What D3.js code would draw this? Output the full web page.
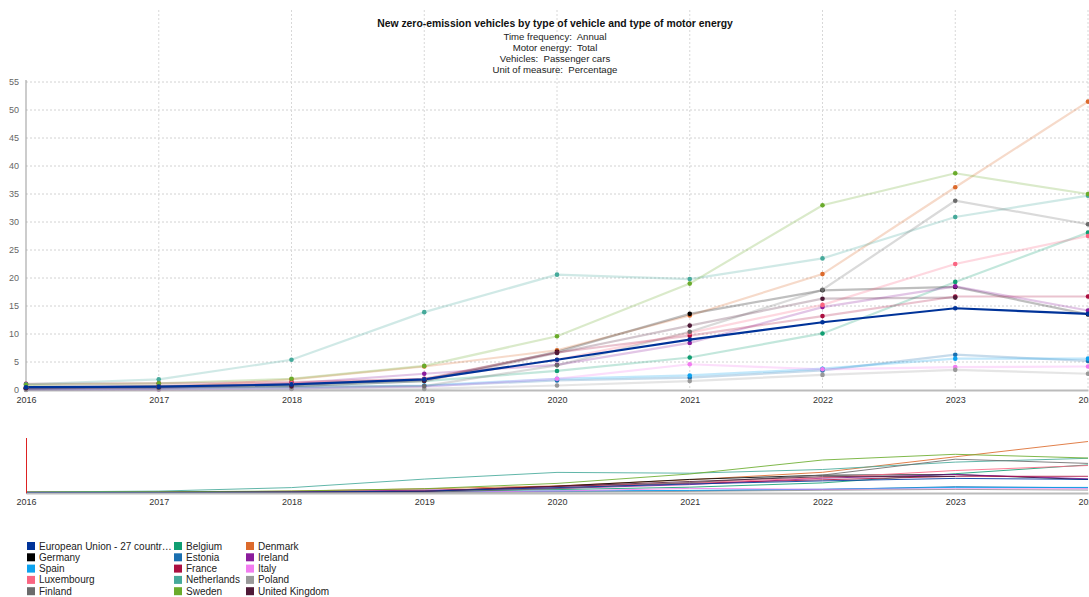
<!DOCTYPE html>
<html>
<head>
<meta charset="utf-8">
<script src="https://cdn.jsdelivr.net/npm/d3@7"></script>
<style>
  html, body { margin: 0; padding: 0; background: #fff; }
  svg { display: block; font-family: "Liberation Sans", Arial, sans-serif; }
  .pre { white-space: pre; }
</style>
</head>
<body>
<svg id="chart" width="1089" height="597"></svg>
<script>
const years = [2016, 2017, 2018, 2019, 2020, 2021, 2022, 2023, 2024];
const yTicks = [0, 5, 10, 15, 20, 25, 30, 35, 40, 45, 50, 55];

const countries = ["European Union - 27 countries (from 2020)", "Belgium", "Denmark", "Germany", "Estonia", "Ireland", "Spain", "France", "Italy", "Luxembourg", "Netherlands", "Poland", "Finland", "Sweden", "United Kingdom"];
const colors = ["#003399", "#109e72", "#dc6a2c", "#000000", "#1a6fb0", "#8a1c9c", "#0ca2ef", "#ab0f40", "#f27cf0", "#fa6582", "#45a99a", "#999999", "#6b6b6b", "#6aab2b", "#4f1a37"];

const euValues   = [0.5, 0.6, 1.0, 1.9, 5.4, 9.0, 12.1, 14.6, 13.6];
const beValues   = [0.4, 0.6, 0.7, 1.6, 3.4, 5.8, 10.1, 19.3, 28.1];
const dkValues   = [0.6, 0.4, 1.9, 4.2, 7.1, 13.3, 20.7, 36.2, 51.5];
const deValues   = [0.3, 0.7, 1.0, 1.8, 6.8, 13.6, 17.8, 18.4, 13.5];
const eeValues   = [0.1, 0.2, 0.3, 0.7, 1.7, 2.2, 3.5, 6.3, 5.2];
const ieValues   = [0.2, 0.3, 1.2, 2.9, 4.5, 8.4, 14.8, 18.5, 14.2];
const esValues   = [0.2, 0.3, 0.5, 0.8, 2.0, 2.6, 3.8, 5.6, 5.6];
const frValues   = [1.1, 1.2, 1.4, 2.0, 6.7, 9.7, 13.2, 16.7, 16.7];
const itValues   = [0.1, 0.1, 0.3, 0.6, 2.0, 4.6, 3.7, 4.1, 4.2];
const luValues   = [0.5, 0.7, 1.2, 1.9, 5.4, 10.2, 15.2, 22.5, 27.5];
const nlValues   = [1.0, 1.9, 5.4, 13.9, 20.6, 19.8, 23.5, 30.9, 34.7];
const plValues   = [0.0, 0.1, 0.2, 0.2, 0.8, 1.6, 2.7, 3.6, 2.9];
const fiValues   = [0.3, 0.4, 0.6, 0.7, 4.4, 10.4, 17.9, 33.8, 29.6];
const seValues   = [0.9, 1.2, 2.0, 4.3, 9.6, 19.0, 33.0, 38.7, 35.0];
const ukValues   = [0.3, 0.5, 0.7, 1.6, 6.6, 11.5, 16.3, 16.5, null];

const seriesValues = [euValues, beValues, dkValues, deValues, eeValues, ieValues, esValues, frValues, itValues, luValues, nlValues, plValues, fiValues, seValues, ukValues];

const titleText = "New zero-emission vehicles by type of vehicle and type of motor energy";
const subtitles = ["Time frequency:  Annual", "Motor energy:  Total", "Vehicles:  Passenger cars", "Unit of measure:  Percentage"];

const series = countries.map((name, i) => ({
  name, color: colors[i],
  values: years.map((y, j) => ({ year: y, value: seriesValues[i][j] })).filter(d => d.value !== null)
}));

const svg = d3.select("#chart");
const W = 1089;

// main scales
const x = d3.scaleLinear().domain([2016, 2024]).range([26, 1088]);
const y = d3.scaleLinear().domain([0, 55]).range([390, 82]);

// grid
const grid = svg.append("g");
grid.selectAll("line.h").data(yTicks.filter(t => t > 0)).join("line")
  .attr("x1", 26).attr("x2", W).attr("y1", d => y(d)).attr("y2", d => y(d))
  .attr("stroke", "#d2d2d2").attr("stroke-dasharray", "2,2").attr("stroke-width", 1);
grid.selectAll("line.v").data(years.slice(1)).join("line")
  .attr("x1", d => x(d)).attr("x2", d => x(d)).attr("y1", 10).attr("y2", 390)
  .attr("stroke", "#d8d8d8").attr("stroke-dasharray", "2,2").attr("stroke-width", 1);

// axes
const yAxis = d3.axisLeft(y).tickValues(yTicks).tickSize(0).tickPadding(7);
const gy = svg.append("g").attr("transform", "translate(26,0)").call(yAxis);
gy.select(".domain").remove();
gy.selectAll("text").attr("fill", "#666").attr("font-size", 9).attr("font-family", "Liberation Sans, Arial, sans-serif");
svg.append("line").attr("x1", 26).attr("x2", 26).attr("y1", 80).attr("y2", 391).attr("stroke", "#999").attr("stroke-width", 1);

const xAxis = d3.axisBottom(x).tickValues(years).tickFormat(d3.format("d")).tickSize(0).tickPadding(7);
const gx = svg.append("g").attr("transform", "translate(0,390)").call(xAxis);
gx.select(".domain").attr("stroke", "#bbb").attr("stroke-width", 2);
gx.selectAll("text").attr("fill", "#333").attr("font-size", 9).attr("font-family", "Liberation Sans, Arial, sans-serif");

// lines
const line = d3.line().x(d => x(d.year)).y(d => y(d.value));
const plot = svg.append("g");
const order = series.slice(1).concat([series[0]]);
plot.selectAll("path.s").data(order).join("path")
  .attr("d", d => line(d.values))
  .attr("fill", "none")
  .attr("stroke", d => d.color)
  .attr("stroke-width", 2.2)
  .attr("stroke-opacity", d => d === series[0] ? 1 : 0.25);
order.forEach(s => {
  plot.selectAll(null).data(s.values).join("circle")
    .attr("cx", d => x(d.year)).attr("cy", d => y(d.value))
    .attr("r", 2.3).attr("fill", s.color);
});

// title
const tg = svg.append("g").attr("text-anchor", "middle").attr("fill", "#111");
tg.append("text").attr("x", 555).attr("y", 27).attr("font-size", 10.4).attr("font-weight", "bold").text(titleText);
subtitles.forEach((t, i) => {
  tg.append("text").attr("class", "pre").attr("x", 555).attr("y", 39.5 + i * 11).attr("font-size", 9.6).attr("fill", "#222").text(t);
});

// navigator
const yn = d3.scaleLinear().domain([0, 55]).range([493, 438]);
const lineN = d3.line().x(d => x(d.year)).y(d => yn(d.value));
const nav = svg.append("g");
nav.selectAll("path").data(order).join("path")
  .attr("d", d => lineN(d.values)).attr("fill", "none")
  .attr("stroke", d => d.color).attr("stroke-width", 1).attr("stroke-opacity", 0.85);
const gxn = svg.append("g").attr("transform", "translate(0,493)").call(d3.axisBottom(x).tickValues(years).tickFormat(d3.format("d")).tickSize(0).tickPadding(6));
gxn.select(".domain").attr("stroke", "#bbb").attr("stroke-width", 2);
gxn.selectAll("text").attr("fill", "#333").attr("font-size", 9).attr("font-family", "Liberation Sans, Arial, sans-serif");
svg.append("line").attr("x1", 26.5).attr("x2", 26.5).attr("y1", 438).attr("y2", 493).attr("stroke", "#d22").attr("stroke-width", 1);

// legend
const colX = [27, 174, 246];
const leg = svg.append("g").attr("font-size", 10).attr("fill", "#222");
countries.forEach((name, i) => {
  const c = i % 3, r = Math.floor(i / 3);
  const gx0 = colX[c], gy0 = 542 + r * 11.3;
  leg.append("rect").attr("x", gx0).attr("y", gy0).attr("width", 8).attr("height", 8).attr("fill", colors[i]);
  let label = name;
  if (label.length > 27) label = label.slice(0, 26) + "…";
  leg.append("text").attr("x", gx0 + 12).attr("y", gy0 + 7.5).text(label);
});
</script>
</body>
</html>
